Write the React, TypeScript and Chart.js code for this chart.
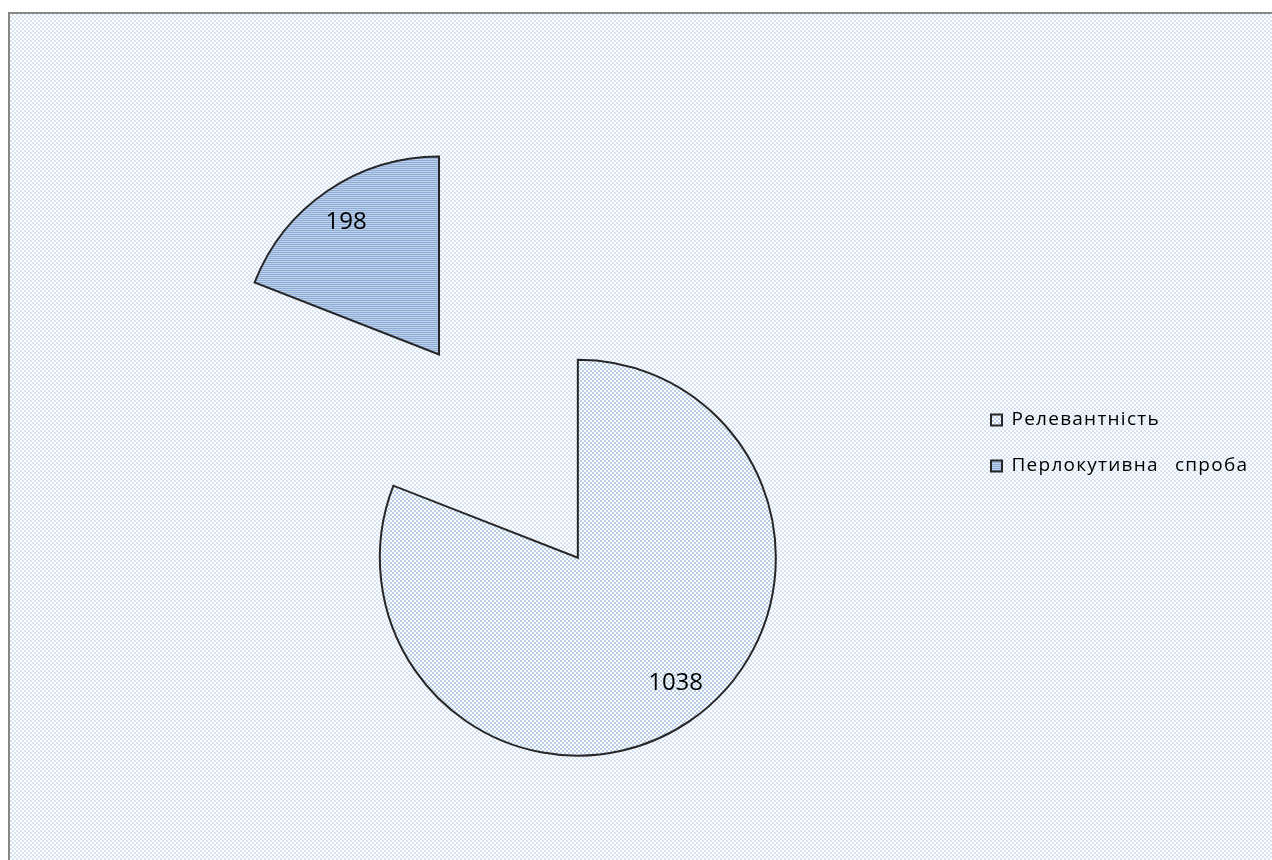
import React, { useEffect, useRef } from 'react';
import { Chart, registerables } from 'chart.js';

Chart.register(...registerables);

// ---- data ----
const categories = ['Релевантність', 'Перлокутивна спроба'];
// values printed on the slices
const shownValues = [1038, 198];
// slice sizes: the 198 share is drawn as a part of the 1038 total (198/1038 of the circle)
const sliceValues = [shownValues[0] - shownValues[1], shownValues[1]];

// ---- style / layout ----
const W = 1262;
const H = 846;
const RADIUS = 198;
const explode = [138.9, 107.2];
const labelAngleFrac = [0.488, 0.488];
const labelRadiusFrac = [0.805, 0.815];
const LEGEND_FONT = 19;
const LEGEND_PAD = 27;
const BOX = 11;
const LEGEND_LEFT = 954;
const PAD_LEFT = 25;
const PAD_TOP = 12;
const FONT = '"Open Sans"';
const LETTER_SPACING = '1.25px';
const WORD_SPACING = '10px';

function makePattern(w: number, h: number, draw: (c: CanvasRenderingContext2D) => void) {
  const c = document.createElement('canvas');
  c.width = w;
  c.height = h;
  const x = c.getContext('2d')!;
  draw(x);
  return x.createPattern(c, 'repeat')!;
}

function setTracking(ctx: any) {
  ctx.letterSpacing = LETTER_SPACING;
  ctx.wordSpacing = WORD_SPACING;
}

const explodePlugin = {
  id: 'explodeSlices',
  afterDatasetUpdate(_chart: any, args: any) {
    args.meta.data.forEach((arc: any, i: number) => {
      const mid = (arc.startAngle + arc.endAngle) / 2;
      arc.x += Math.cos(mid) * explode[i];
      arc.y += Math.sin(mid) * explode[i];
    });
  },
};

// wider text tracking like the original rendering (legend text)
const trackingPlugin = {
  id: 'textTracking',
  beforeLayout(chart: any) {
    setTracking(chart.ctx);
  },
  beforeDraw(chart: any) {
    setTracking(chart.ctx);
  },
};

const labelPlugin = {
  id: 'sliceLabels',
  afterDatasetsDraw(chart: any) {
    const meta = chart.getDatasetMeta(0);
    const ctx = chart.ctx as any;
    ctx.save();
    ctx.letterSpacing = '0px';
    ctx.wordSpacing = '0px';
    ctx.font = `24px ${FONT}`;
    ctx.fillStyle = '#000000';
    ctx.textAlign = 'center';
    ctx.textBaseline = 'middle';
    meta.data.forEach((arc: any, i: number) => {
      const a = arc.startAngle + (arc.endAngle - arc.startAngle) * labelAngleFrac[i];
      const r = arc.outerRadius * labelRadiusFrac[i];
      ctx.fillText(String(shownValues[i]), arc.x + Math.cos(a) * r, arc.y + Math.sin(a) * r);
    });
    ctx.restore();
  },
};

export default function App() {
  const ref = useRef<HTMLCanvasElement>(null);

  useEffect(() => {
    const canvas = ref.current!;
    const bigPat = makePattern(4, 4, (c) => {
      c.fillStyle = '#ffffff';
      c.fillRect(0, 0, 4, 4);
      c.fillStyle = '#b9cfe9';
      c.fillRect(0, 0, 2, 2);
      c.fillRect(2, 2, 2, 2);
    });
    const smallPat = makePattern(4, 2, (c) => {
      c.fillStyle = '#bed1ea';
      c.fillRect(0, 0, 4, 2);
      c.fillStyle = '#8fadd6';
      c.fillRect(0, 0, 4, 1);
    });

    const m = document.createElement('canvas').getContext('2d')! as any;
    m.font = `${LEGEND_FONT}px ${FONT}`;
    setTracking(m);
    const textW = Math.max(...categories.map((c) => m.measureText(c).width));
    const legendW = LEGEND_PAD + BOX + LEGEND_FONT / 2 + textW + 10;
    const padRight = Math.max(0, W - LEGEND_LEFT - legendW);

    Chart.defaults.font.family = FONT;
    const chart = new Chart(canvas, {
      type: 'pie',
      data: {
        labels: categories,
        datasets: [
          {
            data: sliceValues,
            backgroundColor: [bigPat, smallPat] as any,
            borderColor: '#262626',
            borderWidth: 2,
            borderJoinStyle: 'miter',
            radius: RADIUS,
          } as any,
        ],
      },
      options: {
        responsive: false,
        animation: false,
        events: [],
        layout: { padding: { top: PAD_TOP, bottom: 0, left: PAD_LEFT, right: padRight } },
        plugins: {
          legend: {
            position: 'right',
            labels: {
              font: { family: FONT, size: LEGEND_FONT },
              color: '#000000',
              boxWidth: BOX,
              boxHeight: BOX,
              padding: LEGEND_PAD,
            },
          },
          tooltip: { enabled: false },
        },
      },
      plugins: [trackingPlugin, explodePlugin, labelPlugin],
    });
    return () => chart.destroy();
  }, []);

  return (
    <div
      style={{
        position: 'absolute',
        left: 8,
        top: 12,
        width: W,
        height: H,
        borderTop: '2px solid #878787',
        borderLeft: '2px solid #878787',
        background: 'repeating-conic-gradient(#d6e3f3 0% 25%, #ffffff 0% 50%) 0 0 / 4px 4px',
      }}
    >
      <canvas ref={ref} width={W} height={H} style={{ display: 'block', width: W, height: H }} />
    </div>
  );
}
